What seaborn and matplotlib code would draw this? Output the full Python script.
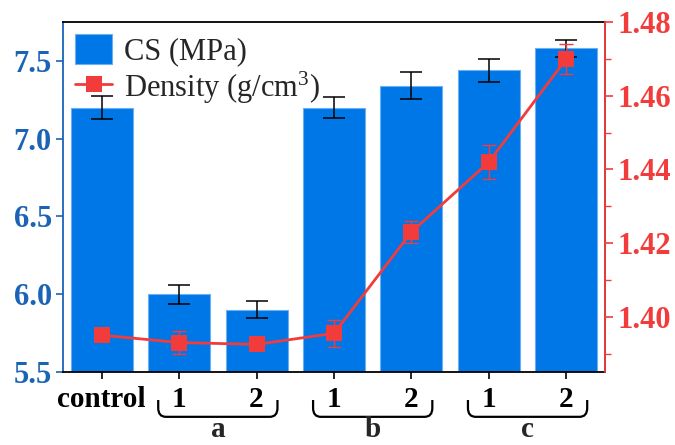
import numpy as np
import pandas as pd
import matplotlib
matplotlib.use("Agg")
import matplotlib.pyplot as plt
from matplotlib.path import Path
from matplotlib.patches import PathPatch
from matplotlib.ticker import MultipleLocator
from matplotlib.lines import Line2D
from matplotlib.patches import Patch
import seaborn as sns

sns.set_theme(style="white")
plt.rcParams["font.family"] = ["Liberation Serif", "DejaVu Serif"]
plt.rcParams["mathtext.fontset"] = "custom"
plt.rcParams["mathtext.rm"] = "Liberation Serif"
plt.rcParams["mathtext.it"] = "Liberation Serif:italic"
plt.rcParams["mathtext.bf"] = "Liberation Serif:bold"

# ---- data ----
samples = ["control", "a1", "a2", "b1", "b2", "c1", "c2"]
tick_labels = ["control", "1", "2", "1", "2", "1", "2"]
groups = ["a", "b", "c"]
cs_mpa = [7.20, 6.00, 5.90, 7.20, 7.34, 7.44, 7.58]
cs_err = [0.075, 0.06, 0.055, 0.07, 0.087, 0.075, 0.055]
density = [1.395, 1.393, 1.3925, 1.3955, 1.423, 1.442, 1.470]
density_err = [0.001, 0.003, 0.001, 0.0037, 0.003, 0.0045, 0.004]

BLUE = "#0077E6"
BLUE_EDGE = "#6AB0F2"
AX_BLUE = "#1A63B5"
RED = "#F23C3C"

df = pd.DataFrame({"sample": samples, "cs": cs_mpa})

fig = plt.figure(figsize=(6.75, 4.45), dpi=100)
ax = fig.add_axes([0.0933, 0.164, 0.803, 0.7866])

sns.barplot(data=df, x="sample", y="cs", color=BLUE, saturation=1,
            width=0.8, edgecolor=BLUE_EDGE, linewidth=0.8, ax=ax, zorder=2)
pos = np.arange(len(samples))
ax.errorbar(pos, cs_mpa, yerr=cs_err, fmt="none", ecolor="black",
            elinewidth=1.1, capsize=8, capthick=1.1, zorder=3)

ax.set_xlim(-0.5, 6.5)
ax.set_ylim(5.5, 7.75)
ax.set_xlabel("")
ax.set_ylabel("")
ax.set_xticks(pos)
ax.set_xticklabels(tick_labels, fontsize=21, fontweight="bold")
ax.tick_params(axis="x", direction="out", length=5, width=1.2, pad=5,
               colors="black", bottom=True)
ax.tick_params(axis="y", direction="out", length=5, width=1.2, pad=3,
               colors=AX_BLUE, left=True)
ax.set_yticks([5.5, 6.0, 6.5, 7.0, 7.5])
ax.set_yticklabels(["5.5", "6.0", "6.5", "7.0", "7.5"], fontsize=22,
                   fontweight="bold", color=AX_BLUE)
ax.spines["left"].set_color(AX_BLUE)
ax.spines["left"].set_linewidth(1.3)
ax.spines["bottom"].set_color("black")
ax.spines["bottom"].set_linewidth(1.3)
ax.spines["top"].set_color("black")
ax.spines["top"].set_linewidth(1.3)

# ---- density on the twin axis ----
ax2 = ax.twinx()
sns.lineplot(x=pos, y=density, color=RED, linewidth=2.0, marker="s",
             markersize=11.5, markeredgewidth=0, ax=ax2, zorder=4)
ax2.errorbar(pos, density, yerr=density_err, fmt="none", ecolor=RED,
             elinewidth=1.0, capsize=5, capthick=1.0, zorder=3)
ax2.set_ylim(1.385, 1.48)
ax2.yaxis.set_minor_locator(MultipleLocator(0.01))
ax2.tick_params(axis="y", which="major", direction="out", length=6, width=1.2,
                pad=3, colors=RED, right=True)
ax2.tick_params(axis="y", which="minor", direction="out", length=4, width=1.0,
                colors=RED, right=True)
rticks = [1.40, 1.42, 1.44, 1.46, 1.48]
ax2.set_yticks(rticks)
ax2.set_yticklabels([f"{v:.2f}" for v in rticks],
                    fontsize=22, fontweight="bold", color=RED)
for s in ["left", "top", "bottom"]:
    ax2.spines[s].set_visible(False)
ax2.spines["right"].set_color(RED)
ax2.spines["right"].set_linewidth(1.3)

# ---- group brackets under the paired ticks ----
trans = ax.get_xaxis_transform()
y_top, y_bot, ry = -0.08, -0.128, 0.025
rx = 0.1
for g, (i0, i1) in zip(groups, [(1, 2), (3, 4), (5, 6)]):
    x0, x1 = i0 - 0.27, i1 + 0.27
    verts = [(x0, y_top), (x0, y_bot + ry), (x0, y_bot), (x0 + rx, y_bot),
             (x1 - rx, y_bot), (x1, y_bot), (x1, y_bot + ry), (x1, y_top)]
    codes = [Path.MOVETO, Path.LINETO, Path.CURVE3, Path.CURVE3,
             Path.LINETO, Path.CURVE3, Path.CURVE3, Path.LINETO]
    ax.add_patch(PathPatch(Path(verts, codes), transform=trans, fill=False,
                           edgecolor="black", linewidth=1.6, clip_on=False))
    ax.text((i0 + i1) / 2, -0.186, g, transform=trans, ha="center",
            va="baseline", fontsize=21, fontweight="bold")

# ---- legend ----
handles = [Patch(facecolor=BLUE, edgecolor=BLUE_EDGE, linewidth=0.8),
           Line2D([], [], color=RED, linewidth=2.0, marker="s",
                  markersize=11.5, markeredgewidth=0)]
ax2.legend(handles, ["CS (MPa)", "Density (g/cm$^{3}$)"], loc="upper left",
           bbox_to_anchor=(0.0, 1.0), frameon=False, fontsize=22,
           handlelength=1.2, handleheight=1.1, handletextpad=0.4,
           labelspacing=0.1, borderaxespad=0.2, borderpad=0.2)

fig.savefig("out.png", dpi=100)
